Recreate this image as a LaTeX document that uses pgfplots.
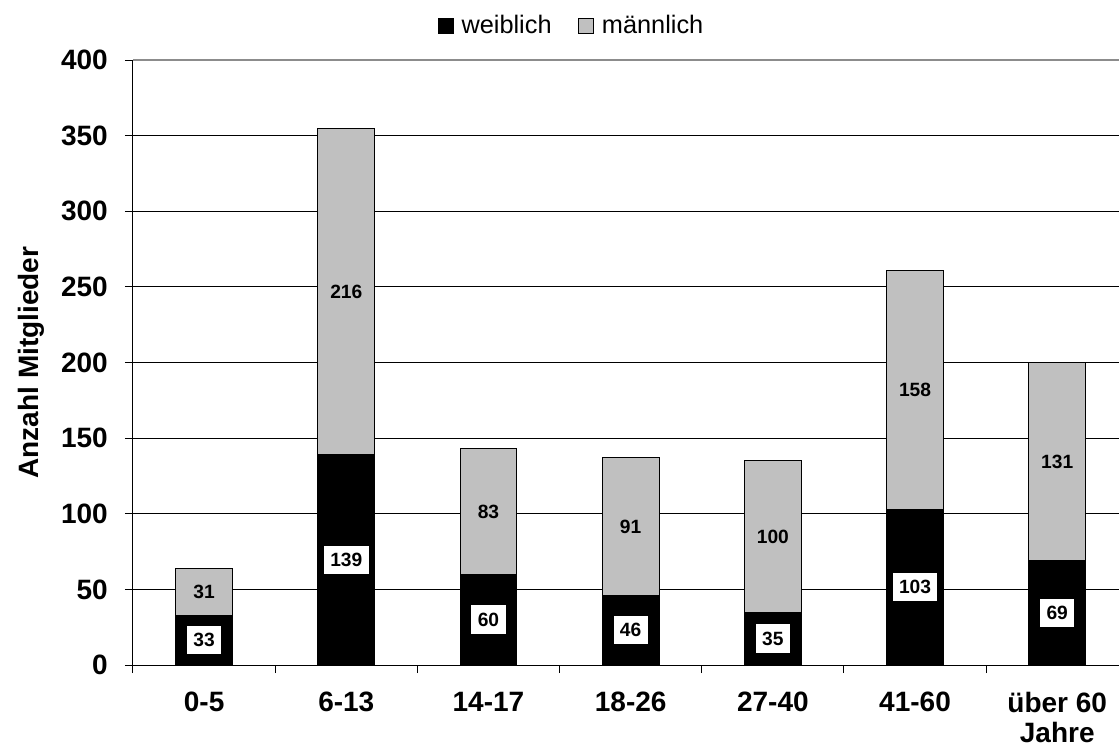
\documentclass[border=0pt]{standalone}
\usepackage{fontspec}
\setmainfont{Liberation Sans}
\usepackage{pgfplots}
\usepackage{pgfplotstable}
\pgfplotsset{compat=1.18}
\definecolor{barGray}{RGB}{192,192,192}
\definecolor{topGray}{RGB}{140,140,140}

% Mitglieder nach Altersgruppe
\pgfplotstableread{
x w m
0 33 31
1 139 216
2 60 83
3 46 91
4 35 100
5 103 158
6 69 131
}\members

\begin{document}
\begin{tikzpicture}
\begin{axis}[
    scale only axis,
    width=746.5pt, height=453.75pt,
    ybar stacked,
    bar width=0.4,
    xmin=-0.5, xmax=6.5,
    ymin=0, ymax=400,
    xtick={-0.5,0.5,...,6.5},
    x tick label as interval,
    xticklabels={0-5,6-13,14-17,18-26,27-40,41-60,{über 60\\Jahre}},
    ytick={0,50,...,350},
    extra y ticks={400},
    extra y tick style={major grid style={topGray, line width=1.5pt}},
    ymajorgrids,
    major grid style={black, line width=0.75pt},
    axis x line*=bottom, axis y line*=left,
    axis line style={black, line width=0.75pt, -},
    tick align=outside,
    major tick length=6pt,
    tick style={black, line width=0.75pt},
    /pgf/number format/assume math mode=true,
    tick label style={font=\bfseries\fontsize{21}{22.5}\selectfont, inner sep=0pt},
    yticklabel style={anchor=east, xshift=-12.75pt},
    xticklabel style={anchor=north, align=center, yshift=-14.25pt},
    ylabel={Anzahl Mitglieder},
    ylabel style={at={(axis description cs:-0.1025,0.5)}, anchor=center,
        font=\bfseries\fontsize{21}{24}\selectfont},
    legend style={at={(0.441,1.0565)}, anchor=center, draw=none, fill=none,
        legend columns=2, font=\fontsize{19}{23}\selectfont,
        /tikz/every odd column/.append style={column sep=4pt},
        /tikz/every even column/.append style={column sep=18pt}},
    legend image code/.code={\draw[#1, draw=black, line width=0.5pt] (0pt,-5.6pt) rectangle (11.25pt,5.6pt);},
]
\addplot[fill=black, draw=black, line width=0.75pt,
    point meta=explicit,
    nodes near coords,
    every node near coord/.append style={anchor=center,
        fill=white, text=black, font=\bfseries\fontsize{14.4}{17}\selectfont,
        inner xsep=4.8pt, inner ysep=5.6pt}]
    table[x=x, y=w, meta=w] {\members};
\addplot[fill=barGray, draw=black, line width=0.75pt,
    point meta=explicit,
    nodes near coords,
    every node near coord/.append style={anchor=center,
        text=black, font=\bfseries\fontsize{14.4}{17}\selectfont}]
    table[x=x, y=m, meta=m] {\members};
\legend{weiblich, männlich}
\end{axis}
\pgfresetboundingbox
\path[use as bounding box] (-99.75pt,-59.25pt) rectangle (739.5pt,498.75pt);
\end{tikzpicture}
\end{document}
